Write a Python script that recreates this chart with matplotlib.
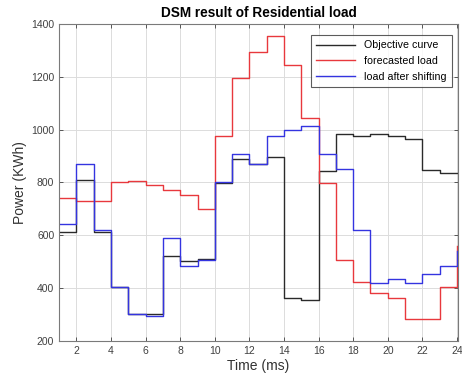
import numpy as np
import matplotlib.pyplot as plt

plt.rcParams['font.family'] = ['Liberation Sans', 'DejaVu Sans']

hours = np.arange(1, 25)
objective = [614, 808, 614, 404, 304, 304, 522, 503, 511, 799, 887, 868,
             897, 364, 354, 843, 984, 977, 985, 977, 965, 847, 837, 835]
forecast = [740, 730, 730, 802, 805, 790, 770, 752, 699, 977, 1194, 1295,
            1354, 1245, 1044, 797, 505, 423, 382, 363, 285, 285, 404, 560]
shifted = [641, 868, 621, 404, 304, 295, 590, 483, 505, 803, 908, 868,
           977, 997, 1012, 908, 852, 620, 421, 436, 421, 455, 483, 540]

fig = plt.figure(figsize=(4.62, 3.84), dpi=100)
ax = fig.add_axes([0.128, 0.112, 0.863, 0.826])

ax.step(hours, objective, where='post', color='#2a2a2a', lw=1.0, label='Objective curve')
ax.step(hours, forecast, where='post', color='#e8383d', lw=1.0, label='forecasted load')
ax.step(hours, shifted, where='post', color='#3434e0', lw=1.0, label='load after shifting')

ax.set_xlim(1, 24.05)
ax.set_ylim(200, 1400)
ax.set_xticks(np.arange(2, 25, 2))
ax.set_yticks(np.arange(200, 1401, 200))
ax.grid(True, color='#dcdcdc', lw=0.7)
ax.set_axisbelow(True)
ax.tick_params(direction='in', top=True, right=True, labelsize=7.5,
               colors='#404040', length=3, width=0.6)
for s in ax.spines.values():
    s.set_color('#7a7a7a')
    s.set_linewidth(0.8)

ax.set_title('DSM result of Residential load', fontsize=9.8, fontweight='bold', pad=5)
ax.set_xlabel('Time (ms)', fontsize=10, color='#333333', labelpad=2)
ax.set_ylabel('Power (KWh)', fontsize=10, color='#333333', labelpad=3)

leg = ax.legend(loc='upper right', fontsize=7.7, frameon=True, fancybox=False,
                handlelength=3.7, borderpad=0.5, labelspacing=0.55,
                borderaxespad=0.0, bbox_to_anchor=(0.985, 0.965))
leg.get_frame().set_edgecolor('#333333')
leg.get_frame().set_linewidth(0.8)

fig.savefig('out.png', dpi=100)
